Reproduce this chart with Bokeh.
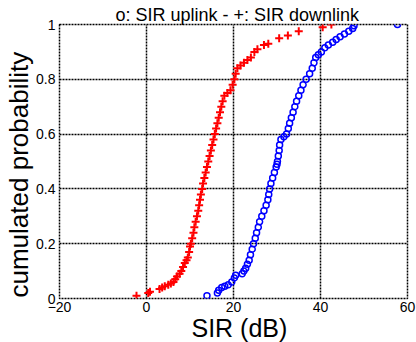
from bokeh.plotting import figure
from bokeh.models import Range1d, FixedTicker, Title
from bokeh.embed import file_html
from bokeh.resources import INLINE

# SIR downlink (red +)
down_sir = [-2.3, 0.4, 0.8, 3.0, 3.6, 4.2, 5.0, 5.6, 6.2, 6.6, 7.0, 7.6, 8.0, 8.4, 8.8,
            9.2, 9.5, 9.8, 10.0, 10.2, 10.5, 10.8, 11.0, 11.3, 11.6, 11.9, 12.1, 12.3,
            12.5, 12.8, 13.0, 13.3, 13.6, 13.9, 14.2, 14.5, 14.8, 15.1, 15.4, 15.7,
            16.0, 16.3, 16.6, 16.9, 17.2, 17.5, 17.9, 18.6, 19.3, 19.8, 20.2, 20.5,
            20.9, 21.6, 22.4, 23.2, 24.0, 24.8, 25.5, 27.0, 28.0, 30.5, 32.5, 35.0,
            40.5, 42.5]
down_cdf = [0.01, 0.02, 0.025, 0.035, 0.04, 0.045, 0.05, 0.055, 0.06, 0.07, 0.08, 0.09,
            0.10, 0.115, 0.13, 0.14, 0.15, 0.17, 0.19, 0.20, 0.22, 0.24, 0.26, 0.28,
            0.30, 0.32, 0.34, 0.36, 0.38, 0.40, 0.42, 0.44, 0.46, 0.48, 0.50, 0.52,
            0.54, 0.56, 0.58, 0.60, 0.62, 0.64, 0.66, 0.68, 0.70, 0.72, 0.74, 0.75,
            0.76, 0.78, 0.80, 0.82, 0.84, 0.85, 0.86, 0.87, 0.88, 0.90, 0.91, 0.925,
            0.93, 0.95, 0.96, 0.975, 0.99, 1.0]

# SIR uplink (blue o)
up_sir = [13.9, 16.3, 16.6, 17.3, 18.0, 18.8, 19.6, 20.2, 20.5, 22.0, 22.4, 22.8, 23.2,
          23.6, 23.9, 24.3, 24.6, 25.0, 25.3, 25.7, 26.0, 26.5, 27.0, 27.5, 27.9, 28.1,
          28.3, 28.6, 29.0, 29.4, 29.8, 30.0, 30.1, 30.3, 30.5, 30.6, 30.9, 31.6, 32.2,
          32.6, 32.9, 33.3, 33.7, 34.1, 34.5, 35.0, 35.5, 36.0, 36.7, 37.5, 38.1, 38.5,
          38.9, 39.5, 40.2, 41.0, 41.8, 42.8, 43.6, 44.5, 45.5, 46.5, 47.4, 47.7, 57.7]
up_cdf = [0.01, 0.02, 0.03, 0.04, 0.045, 0.05, 0.06, 0.075, 0.085, 0.09, 0.10, 0.11,
          0.125, 0.14, 0.16, 0.18, 0.20, 0.22, 0.24, 0.26, 0.28, 0.30, 0.32, 0.34, 0.36,
          0.38, 0.40, 0.42, 0.44, 0.46, 0.48, 0.49, 0.50, 0.52, 0.54, 0.56, 0.58, 0.59,
          0.60, 0.62, 0.64, 0.66, 0.68, 0.70, 0.72, 0.74, 0.76, 0.78, 0.80, 0.82, 0.84,
          0.86, 0.88, 0.89, 0.90, 0.915, 0.925, 0.935, 0.945, 0.955, 0.965, 0.975,
          0.985, 0.995, 1.0]

x_ticks = [-20, 0, 20, 40, 60]
y_ticks = [0, 0.2, 0.4, 0.6, 0.8, 1]

title_text = "o: SIR uplink - +: SIR downlink"
x_label = "SIR (dB)"
y_label = "cumulated probability"

FONT = "Liberation Sans"

p = figure(width=416, height=342, output_backend="svg", toolbar_location=None,
           x_range=Range1d(-20, 60), y_range=Range1d(0, 1),
           min_border_left=59, min_border_right=9, min_border_top=24,
           min_border_bottom=44)
p.background_fill_color = "white"
p.border_fill_color = "white"
p.outline_line_color = "black"
p.outline_line_dash = "2 1"
p.outline_line_width = 1.5

p.title.text = title_text
p.title.text_font = FONT
p.title.text_font_size = "18px"
p.title.text_font_style = "normal"
p.title.text_color = "black"
p.title.align = "left"
p.title.offset = 56
p.title.standoff = 0

for ax, ticks in ((p.xaxis[0], x_ticks), (p.yaxis[0], y_ticks)):
    ax.ticker = FixedTicker(ticks=ticks)
    ax.axis_line_color = None
    ax.major_tick_out = 0
    ax.major_tick_in = 0
    ax.minor_tick_line_color = None
    ax.major_label_text_font = FONT
    ax.major_label_text_font_size = "14px"
    ax.major_label_text_color = "black"
ax_x, ax_y = p.xaxis[0], p.yaxis[0]
ax_x.major_label_standoff = 3
ax_y.major_label_standoff = 4
p.yaxis.major_label_overrides = {0: "0", 1: "1"}

for g in (p.xgrid[0], p.ygrid[0]):
    g.grid_line_color = "black"
    g.grid_line_dash = "2 1"
    g.grid_line_width = 1.5
    g.grid_line_alpha = 1.0

p.scatter(down_sir, down_cdf, marker="cross", size=8, line_width=2, color="red")
p.scatter(up_sir, up_cdf, marker="circle", size=6, line_width=1.5,
          line_color="blue", fill_color=None)

p.add_layout(Title(text=x_label, text_font=FONT, text_font_size="25px",
                   text_font_style="normal", text_color="black",
                   align="left", offset=132, standoff=-6), "below")
p.add_layout(Title(text=y_label, text_font=FONT, text_font_size="26px",
                   text_font_style="normal", text_color="black",
                   align="left", offset=1, standoff=0), "left")

open("out.html", "w").write(file_html(p, INLINE))
